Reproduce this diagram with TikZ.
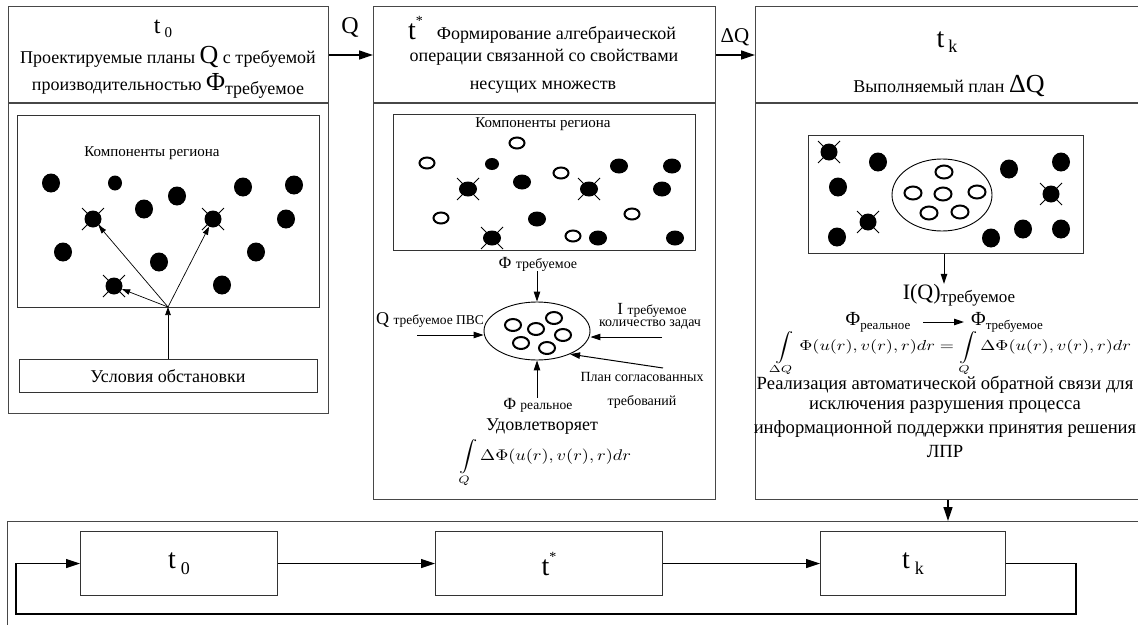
\documentclass[tikz,border=0pt]{standalone}
\usepackage{fontspec}
\setmainfont{Liberation Serif}
\usetikzlibrary{arrows.meta,shapes.geometric}
\newcommand\fsz[2]{\fontsize{#1}{#2}\selectfont}
\tikzset{
  frame/.style={draw=black!72, line width=1.3pt, anchor=north west, inner sep=0},
  ibox/.style={draw=black!80, line width=1.1pt, anchor=north west, inner sep=0},
  txt/.style={inner sep=0, font=\fsz{18}{20}},
  bigarr/.style={-{Triangle[length=14pt,width=9pt]}, line width=1.3pt},
  midarr/.style={-{Triangle[length=10pt,width=6.5pt]}, line width=1pt},
  smarr/.style={-{Triangle[length=8pt,width=5.5pt]}, line width=0.7pt},
  fd/.style={ellipse, fill=black, inner sep=0, minimum width=18pt, minimum height=19pt},
  fds/.style={ellipse, fill=black, inner sep=0, minimum width=14pt, minimum height=15pt},
  fdp/.style={ellipse, fill=black, inner sep=0, minimum width=18pt, minimum height=15pt},
  od/.style={ellipse, draw, line width=2pt, fill=white, inner sep=0, minimum width=15pt, minimum height=11pt},
  xc/.pic={\draw[line width=1pt] (-11,-11)--(11,11) (-11,11)--(11,-11);},
}
\begin{document}
\begin{tikzpicture}[x=1pt,y=-1pt]
\useasboundingbox (0,0) rectangle (1138,624);
\fill[white] (0,0) rectangle (1138,624);

% ---------- panels ----------
\node[frame, minimum width=320pt, minimum height=407pt] (p1) at (8,6) {};
\node[frame, minimum width=342pt, minimum height=493pt] (p2) at (373,6) {};
\node[frame, minimum width=395pt, minimum height=493pt] (p3) at (755,6) {};
\node[frame, minimum width=1145pt, minimum height=130pt] (bb) at (7,521) {};
\draw[draw=black!72, line width=1.3pt] (8,103) -- (328,103) (373,103) -- (715,103) (755,103) -- (1150,103);

% ---------- connectors between panels ----------
\coordinate (qy) at (0,55);
\draw[bigarr] (p1.east |- qy) -- (p2.west |- qy);
\node[txt] (qlab) at (350,27) {\fsz{24}{26}Q};
\draw[bigarr] (p2.east |- qy) -- (p3.west |- qy);
\node[txt] (dqlab) at (735,37) {\fsz{21}{22}ΔQ};

% ---------- panel 1 ----------
\node[txt] (h1a) at (163,29) {\fsz{24}{26}t\hspace{4pt}\raisebox{-4pt}{\fsz{15}{16}0}};
\node[txt] (h1b) at (168,57) {Проектируемые планы {\fsz{26}{28}Q} с требуемой};
\node[txt] (h1c) at (168,86) {производительностью {\fsz{26}{28}Φ}\raisebox{-4pt}{требуемое}};
\node[ibox, minimum width=302pt, minimum height=192pt] (c1) at (17,115) {};
\node[txt, font=\fsz{15}{17}] (c1t) at (152,153) {Компоненты региона};
\foreach \n/\x/\y in {1/51/183,3/177/196,4/144/209,5/243/187,6/294/185,7/286/219,8/63/252,9/159/262,10/256/252,11/222/285}
  \node[fd] (a\n) at (\x,\y) {};
\node[fds] (a2) at (115,183) {};
\node[fd, minimum width=17pt, minimum height=17pt] (ax1) at (93,219) {};
\node[fd, minimum width=17pt, minimum height=17pt] (ax2) at (213,219) {};
\node[fd, minimum width=17pt, minimum height=17pt] (ax3) at (114,286) {};
\pic at (ax1) {xc}; \pic at (ax2) {xc}; \pic at (ax3) {xc};
\node[ibox, minimum width=298pt, minimum height=33pt] (us) at (19,359) {};
\node[txt] (ust) at (168,376) {Условия обстановки};
\coordinate (src) at (168,307);
\draw[smarr] (us.north -| src) -- (src);
\draw[smarr] (src) -- (ax1);
\draw[smarr] (src) -- (ax2);
\draw[smarr] (src) -- (ax3);

% ---------- panel 2 ----------
\node[txt, anchor=west] (h2a) at (408,30) {{\fsz{28}{30}t}\raisebox{14pt}{\fsz{14}{15}*}\hspace{14pt}Формирование алгебраической};
\node[txt] (h2b) at (544,57) {операции связанной со свойствами};
\node[txt] (h2c) at (543,87) {несущих множеств};
\node[ibox, minimum width=302pt, minimum height=136pt] (c2) at (393,114) {};
\node[txt, font=\fsz{15}{17}] (c2t) at (543,124) {Компоненты региона};
\foreach \n/\x/\y in {1/517/143,2/427/163,3/561/173,4/441/218,5/632/214,6/573/236}
  \node[od] (bo\n) at (\x,\y) {};
\foreach \n/\x/\y in {2/619/166,3/672/166,4/522/182,5/662/189,6/537/219,7/598/238,8/675/238}
  \node[fdp] (bf\n) at (\x,\y) {};
\node[fdp, minimum width=14pt, minimum height=12pt] (bf1) at (492,164) {};
\node[fdp] (bx1) at (468,189) {};
\node[fdp] (bx2) at (589,189) {};
\node[fdp] (bx3) at (492,238) {};
\pic at (bx1) {xc}; \pic at (bx2) {xc}; \pic at (bx3) {xc};

\node[ellipse, draw, line width=0.9pt, minimum width=106pt, minimum height=58pt, inner sep=0] (e2) at (537,331) {};
\foreach \n/\x/\y in {1/513/325,2/536/329,3/554/318,4/563/335,5/521/343,6/547/348}
  \node[od, minimum width=16pt, minimum height=12pt] (eo\n) at (\x,\y) {};
\node[txt] (ftr) at (538,264) {{\fsz{17}{19}Φ} {\fsz{14}{16}требуемое}};
\draw[midarr] (ftr.south -| e2.north) -- (e2.north);
\node[txt] (qtr) at (430,320) {{\fsz{18}{20}Q} {\fsz{13.5}{15}требуемое ПВС}};
\coordinate (qin) at (417,335);
\draw[midarr] (qin) -- (qin -| e2.west);
\node[txt] (itr) at (652,310) {{\fsz{17}{19}I} {\fsz{13.5}{15}требуемое}};
\node[txt] (iko) at (650,325) {\fsz{14}{16}количество задач};
\coordinate (iin) at (662,337);
\draw[midarr] (iin) -- (iin -| e2.east);
\node[txt] (pl1) at (642,377) {\fsz{14}{16}План согласованных};
\node[txt] (pl2) at (642,402) {\fsz{14}{16}требований};
\coordinate (pin) at (663,368);
\draw[midarr] (pin) -- (e2.-35);
\node[txt] (fre) at (538,405) {{\fsz{17}{19}Φ} {\fsz{13.5}{15}реальное}};
\draw[midarr] (fre.north -| e2.south) -- (e2.south);
\node[txt] (udv) at (542,427) {\fsz{18}{20}Удовлетворяет};
\node[txt, anchor=north] (int2) at (545,439) {\fsz{10}{12}\resizebox{172pt}{!}{\scalebox{1}[0.85]{$\displaystyle\int\limits_{Q}\Delta\Phi(u(r),v(r),r)dr$}}};

% ---------- panel 3 ----------
\node[txt] (h3a) at (947,42) {{\fsz{28}{30}t}\hspace{4pt}\raisebox{-5pt}{\fsz{18}{20}k}};
\node[txt] (h3b) at (949,86) {Выполняемый план {\fsz{26}{28}ΔQ}};
\node[ibox, minimum width=275pt, minimum height=118pt] (c3) at (808,135) {};
\node[ellipse, draw, line width=0.9pt, minimum width=100pt, minimum height=72pt, inner sep=0] (e3) at (942,195) {};
\foreach \n/\x/\y in {1/944/172,2/913/193,3/943/194,4/977/192,5/929/213,6/960/212}
  \node[od, minimum width=17pt, minimum height=13pt] (co\n) at (\x,\y) {};
\foreach \n/\x/\y in {1/878/162,2/838/187,3/837/237,4/1009/169,5/1061/162,6/991/238,7/1023/229,8/1061/229}
  \node[fd] (cf\n) at (\x,\y) {};
\node[fd, minimum width=17pt, minimum height=17pt] (cx1) at (829,152) {};
\node[fd, minimum width=17pt, minimum height=17pt] (cx2) at (868,222) {};
\node[fd, minimum width=17pt, minimum height=17pt] (cx3) at (1051,194) {};
\pic at (cx1) {xc}; \pic at (cx2) {xc}; \pic at (cx3) {xc};
\node[txt] (iq) at (959,295) {{\fsz{22}{24}I(Q)}\raisebox{-3pt}{\fsz{17}{19}требуемое}};
\coordinate (iqx) at (944,0);
\draw[midarr] (c3.south -| iqx) -- (iq.north -| iqx);
\node[txt] (fr3) at (878,322) {{\fsz{20}{22}Φ}\raisebox{-4pt}{\fsz{13}{15}реальное}};
\node[txt] (ft3) at (1007,322) {{\fsz{20}{22}Φ}\raisebox{-4pt}{\fsz{13}{15}требуемое}};
\coordinate (a3s) at (923,322);
\coordinate (a3e) at (964,322);
\draw[midarr] (a3s) -- (a3e);
\node[txt, anchor=north] (eq3) at (952,331) {\fsz{10}{12}\resizebox{358pt}{!}{\scalebox{1}[0.8]{$\displaystyle\int\limits_{\Delta Q}\Phi(u(r),v(r),r)dr=\int\limits_{Q}\Delta\Phi(u(r),v(r),r)dr$}}};
\node[txt, font=\fsz{18.6}{21}] (r1) at (945,385) {Реализация автоматической обратной связи для};
\node[txt, font=\fsz{18.6}{21}] (r2) at (945,407) {исключения разрушения процесса};
\node[txt, font=\fsz{18.6}{21}] (r3) at (945,429) {информационной поддержки принятия решения};
\node[txt, font=\fsz{18.6}{21}] (r4) at (945,451) {ЛПР};
\coordinate (dn) at (948,0);
\draw[bigarr] (p3.south -| dn) -- (bb.north -| dn);

% ---------- bottom row ----------
\node[ibox, minimum width=197pt, minimum height=64pt] (b0) at (80,531) {};
\node[ibox, minimum width=227pt, minimum height=64pt] (b1) at (435,531) {};
\node[ibox, minimum width=185pt, minimum height=64pt] (b2) at (820,531) {};
\node[txt] (b0t) at (b0.center) {{\fsz{28}{30}t}\hspace{5pt}\raisebox{-6pt}{\fsz{18}{20}0}};
\node[txt] (b1t) at (b1.center) {{\fsz{28}{30}t}\raisebox{14pt}{\fsz{14}{15}*}};
\node[txt] (b2t) at (b2.center) {{\fsz{28}{30}t}\hspace{5pt}\raisebox{-6pt}{\fsz{18}{20}k}};
\draw[bigarr] (b0.east) -- (b1.west);
\draw[bigarr] (b1.east) -- (b2.west);
\coordinate (lr) at (1076,614);
\coordinate (ll) at (16,614);
\draw[bigarr] (b2.east) -| (lr) -- (ll) |- (b0.west);
\end{tikzpicture}
\end{document}
